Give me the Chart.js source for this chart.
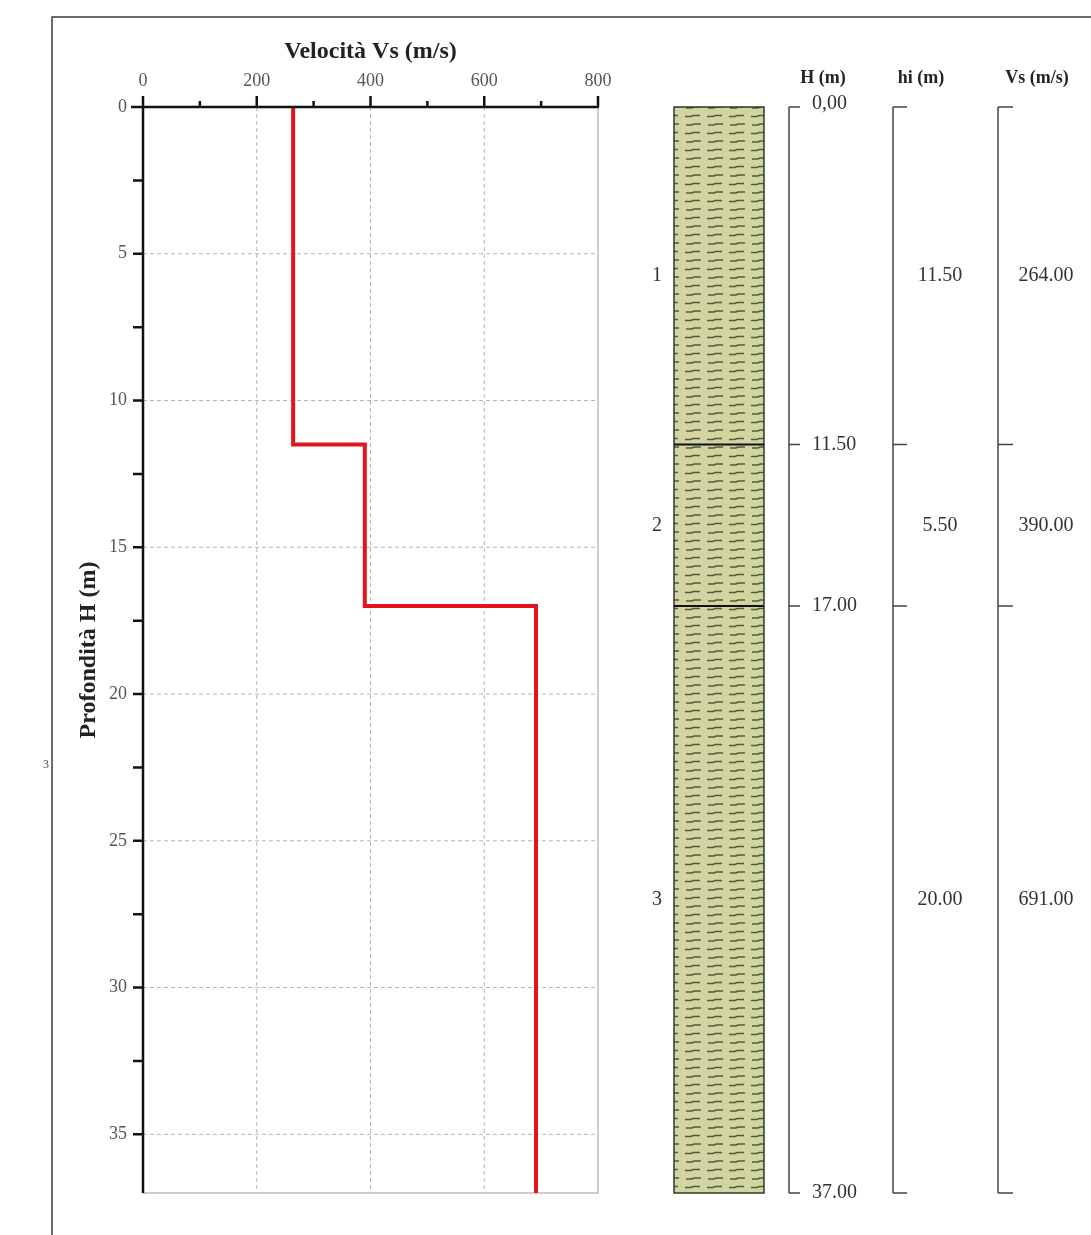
<!DOCTYPE html>
<html>
<head>
<meta charset="utf-8">
<script src="https://cdn.jsdelivr.net/npm/chart.js@4"></script>
<style>
  html, body { margin: 0; padding: 0; background: #fff; }
  #wrap { width: 1091px; height: 1235px; }
</style>
</head>
<body>
<div id="wrap"><canvas id="grafik"></canvas></div>
<script>
// strati (layers)
const strati = ['1', '2', '3'];
const quotaTetto = [0, 11.5, 17];      // H top (m)
const quotaBase = [11.5, 17, 37];      // H bottom (m)
const spessori = [11.5, 5.5, 20];      // hi (m)
const velocita = [264, 390, 691];      // Vs (m/s)
const etichetteH = ['0,00', '11.50', '17.00', '37.00'];

const SERIF = '"Liberation Serif", "DejaVu Serif", serif';

// step profile built from the layers
const profilo = [];
for (let i = 0; i < strati.length; i++) {
    profilo.push({ x: velocita[i], y: quotaTetto[i] });
    profilo.push({ x: velocita[i], y: quotaBase[i] });
}

function tratteggio(ctx) {
    const c = document.createElement('canvas');
    c.width = 22; c.height = 17;
    const p = c.getContext('2d');
    p.fillStyle = '#d4d4a0';
    p.fillRect(0, 0, 22, 17);
    p.strokeStyle = '#4a5d42';
    p.lineWidth = 1.5;
    [[4, 0], [3, 8.5]].forEach(function (r) {
        const y = r[1] + 5;
        p.beginPath();
        p.moveTo(r[0], y + 1);
        p.lineTo(r[0] + 6, y + 1);
        p.lineTo(r[0] + 8, y);
        p.lineTo(r[0] + 15, y);
        p.stroke();
    });
    return ctx.createPattern(c, 'repeat');
}

const disegno = {
    id: 'disegno',
    beforeDatasetsDraw(chart) {
        const ctx = chart.ctx;
        const a = chart.chartArea;
        const sx = chart.scales.x, sy = chart.scales.y;
        ctx.save();
        ctx.strokeStyle = '#b4b4b4';
        ctx.lineWidth = 1;
        ctx.setLineDash([4, 3]);
        sx.ticks.forEach(function (t) {
            if (t.value % 200 === 0 && t.value > 0 && t.value < 800) {
                const x = sx.getPixelForValue(t.value);
                ctx.beginPath(); ctx.moveTo(x, a.top); ctx.lineTo(x, a.bottom); ctx.stroke();
            }
        });
        sy.ticks.forEach(function (t) {
            if (t.value % 5 === 0 && t.value > 0) {
                const y = sy.getPixelForValue(t.value);
                ctx.beginPath(); ctx.moveTo(a.left, y); ctx.lineTo(a.right, y); ctx.stroke();
            }
        });
        ctx.setLineDash([]);
        ctx.strokeStyle = '#bdbdbd';
        ctx.lineWidth = 1.5;
        ctx.beginPath();
        ctx.moveTo(a.right, a.top); ctx.lineTo(a.right, a.bottom); ctx.lineTo(a.left, a.bottom);
        ctx.stroke();
        ctx.restore();
    },
    afterDraw(chart) {
        const ctx = chart.ctx;
        const a = chart.chartArea;
        const sx = chart.scales.x, sy = chart.scales.y;
        ctx.save();

        // cornice
        ctx.strokeStyle = '#3a3a3a';
        ctx.lineWidth = 1.5;
        ctx.beginPath();
        ctx.moveTo(52, 1235); ctx.lineTo(52, 17); ctx.lineTo(1091, 17);
        ctx.stroke();
        ctx.fillStyle = '#444';
        ctx.font = '12px ' + SERIF;
        ctx.textAlign = 'center'; ctx.textBaseline = 'middle';
        ctx.fillText('3', 46, 765);

        // assi
        ctx.strokeStyle = '#111';
        ctx.lineWidth = 2.5;
        ctx.beginPath();
        ctx.moveTo(a.left - 12, a.top); ctx.lineTo(a.right + 1, a.top);
        ctx.moveTo(a.left, a.top); ctx.lineTo(a.left, a.bottom);
        sx.ticks.forEach(function (t) {
            if (t.value % 100 !== 0) return;
            const x = sx.getPixelForValue(t.value);
            const l = t.value % 200 === 0 ? 11 : 6;
            ctx.moveTo(x, a.top); ctx.lineTo(x, a.top - l);
        });
        sy.ticks.forEach(function (t) {
            if (t.value % 2.5 !== 0 || t.value === 0) return;
            const y = sy.getPixelForValue(t.value);
            ctx.moveTo(a.left, y); ctx.lineTo(a.left - 10, y);
        });
        ctx.stroke();

        // colonna stratigrafica
        const c0 = 674, c1 = 764;
        const pat = tratteggio(ctx);
        for (let i = 0; i < strati.length; i++) {
            const y0 = sy.getPixelForValue(quotaTetto[i]);
            const y1 = sy.getPixelForValue(quotaBase[i]);
            ctx.fillStyle = pat;
            ctx.fillRect(c0, y0, c1 - c0, y1 - y0);
            ctx.fillStyle = '#333';
            ctx.font = '20px ' + SERIF;
            ctx.textAlign = 'center'; ctx.textBaseline = 'middle';
            const ym = (y0 + y1) / 2;
            ctx.fillText(strati[i], 657, ym);
            ctx.fillText(spessori[i].toFixed(2), 940, ym);
            ctx.fillText(velocita[i].toFixed(2), 1046, ym);
        }
        ctx.strokeStyle = '#2e3a2a';
        ctx.lineWidth = 1.5;
        const yt = sy.getPixelForValue(quotaTetto[0]);
        const yb = sy.getPixelForValue(quotaBase[quotaBase.length - 1]);
        ctx.strokeRect(c0, yt, c1 - c0, yb - yt);
        ctx.strokeStyle = '#111';
        ctx.lineWidth = 2;
        for (let i = 1; i < strati.length; i++) {
            const y = sy.getPixelForValue(quotaTetto[i]);
            ctx.beginPath(); ctx.moveTo(c0, y); ctx.lineTo(c1, y); ctx.stroke();
        }

        // parentesi H, hi, Vs
        const quote = [quotaTetto[0]].concat(quotaBase);
        ctx.strokeStyle = '#444';
        ctx.lineWidth = 1.5;
        [[789, 800], [893, 907], [998, 1013]].forEach(function (b) {
            ctx.beginPath();
            ctx.moveTo(b[0], yt); ctx.lineTo(b[0], yb);
            quote.forEach(function (q) {
                const y = sy.getPixelForValue(q);
                ctx.moveTo(b[0], y); ctx.lineTo(b[1], y);
            });
            ctx.stroke();
        });
        ctx.fillStyle = '#333';
        ctx.font = '20px ' + SERIF;
        ctx.textAlign = 'left'; ctx.textBaseline = 'middle';
        quote.forEach(function (q, i) {
            const y = sy.getPixelForValue(q) - (i === 0 ? 3 : 0);
            ctx.fillText(etichetteH[i], 812, y);
        });

        ctx.fillStyle = '#222';
        ctx.font = 'bold 18px ' + SERIF;
        ctx.textAlign = 'center';
        ctx.fillText('H (m)', 823, 78);
        ctx.fillText('hi (m)', 921, 78);
        ctx.fillText('Vs (m/s)', 1037, 78);
        ctx.restore();
    }
};

const grf = document.getElementById('grafik').getContext('2d');

const veri = {
    datasets: [{
        label: 'Vs',
        data: profilo,
        showLine: true,
        borderColor: '#e3151b',
        borderWidth: 4,
        pointRadius: 0,
        fill: false
    }]
};

const con = {
    type: 'scatter',
    data: veri,
    options: {
        responsive: true,
        maintainAspectRatio: false,
        animation: false,
        layout: { padding: { left: 60, top: 30, right: 493, bottom: 42 } },
        plugins: {
            legend: { display: false },
            tooltip: { enabled: false }
        },
        scales: {
            x: {
                type: 'linear',
                position: 'top',
                min: 0,
                max: 800,
                afterFit: function (s) { s.height = 77; },
                ticks: {
                    stepSize: 100,
                    autoSkip: false,
                    maxRotation: 0,
                    padding: 3,
                    color: '#555',
                    font: { family: SERIF, size: 18 },
                    callback: v => (v % 200 === 0 ? v : '')
                },
                grid: { display: true, drawOnChartArea: false, tickLength: 12, color: 'transparent' },
                border: { display: false },
                title: {
                    display: true,
                    text: 'Velocità Vs (m/s)',
                    color: '#222',
                    padding: { top: 7, bottom: 0 },
                    font: { family: SERIF, size: 24, weight: 'bold' }
                }
            },
            y: {
                type: 'linear',
                reverse: true,
                min: 0,
                max: 37,
                afterFit: function (s) { s.width = 83; },
                ticks: {
                    stepSize: 2.5,
                    autoSkip: false,
                    padding: 4,
                    color: '#555',
                    font: { family: SERIF, size: 18 },
                    callback: v => (v % 5 === 0 ? v : '')
                },
                grid: { display: true, drawOnChartArea: false, tickLength: 12, color: 'transparent' },
                border: { display: false },
                title: {
                    display: true,
                    text: 'Profondità H (m)',
                    color: '#222',
                    padding: { top: 14, bottom: 0 },
                    font: { family: SERIF, size: 24, weight: 'bold' }
                }
            }
        }
    },
    plugins: [disegno]
};

new Chart(grf, con);
</script>
</body>
</html>
